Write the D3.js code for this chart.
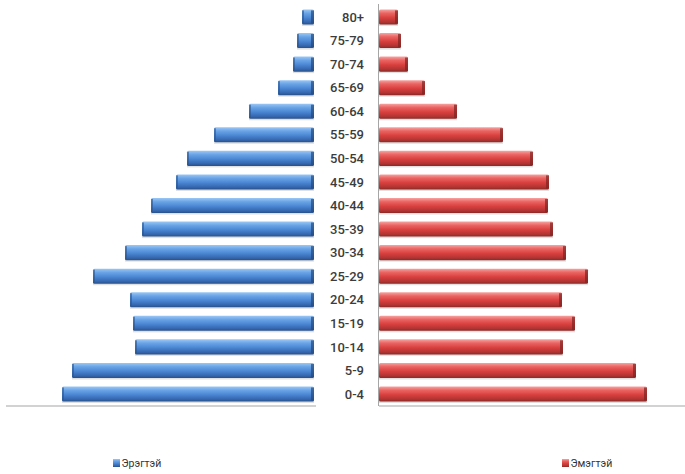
<!DOCTYPE html>
<html>
<head>
<meta charset="utf-8">
<script src="https://cdn.jsdelivr.net/npm/d3@7"></script>
<style>
  body { margin: 0; background: #fff; }
  svg { display: block; }
</style>
</head>
<body>
<div id="chart"></div>
<script>
// age groups, bottom to top
const ageGroups = ["0-4", "5-9", "10-14", "15-19", "20-24", "25-29", "30-34", "35-39",
    "40-44", "45-49", "50-54", "55-59", "60-64", "65-69", "70-74", "75-79", "80+"];
// population, thousands
const maleValues = [126, 121, 89.5, 90.5, 92, 110.5, 94.5, 86, 81.5, 69, 63.5, 50, 32.5, 18, 10.5, 8.5, 6];
const femaleValues = [134, 128.5, 92, 98, 91.5, 104.5, 93.5, 87, 84.5, 85, 77, 62, 39, 23, 14.5, 11, 9.5];
const seriesNames = ["Эрэгтэй", "Эмэгтэй"];

const width = 685, height = 474;
const axisY = 406;

const svg = d3.select("#chart")
    .append("svg")
    .attr("width", width)
    .attr("height", height);

const defs = svg.append("defs");
function gradient(id, stops) {
    const g = defs.append("linearGradient")
        .attr("id", id)
        .attr("x1", 0).attr("y1", 0).attr("x2", 0).attr("y2", 1);
    stops.forEach(s => g.append("stop").attr("offset", s[0]).attr("stop-color", s[1]));
}
gradient("blueGrad", [[0, "#9cc7f5"], [0.25, "#6aa4e6"], [0.55, "#4a86d3"], [0.85, "#3566ad"], [1, "#27508c"]]);
gradient("redGrad", [[0, "#f6a4a2"], [0.25, "#ea6462"], [0.55, "#d9403e"], [0.85, "#b03432"], [1, "#8c2826"]]);

const y = d3.scaleBand()
    .domain(ageGroups.slice().reverse())
    .range([5.2, 405.8])
    .paddingInner(0.36)
    .paddingOuter(0.18);

const xLeft = d3.scaleLinear().domain([0, 150]).range([314, 14]);
const xRight = d3.scaleLinear().domain([0, 150]).range([379, 679]);

const rows = ageGroups.map((a, i) => ({ age: a, male: maleValues[i], female: femaleValues[i] }));

// axis lines
svg.append("line")
    .attr("x1", 6).attr("x2", 316)
    .attr("y1", axisY).attr("y2", axisY)
    .attr("stroke", "#a6a6a6").attr("stroke-width", 1.2);
svg.append("line")
    .attr("x1", 379).attr("x2", 685)
    .attr("y1", axisY).attr("y2", axisY)
    .attr("stroke", "#a6a6a6").attr("stroke-width", 1.2);
svg.append("line")
    .attr("x1", 378.5).attr("x2", 378.5)
    .attr("y1", 4).attr("y2", axisY)
    .attr("stroke", "#a6a6a6").attr("stroke-width", 1);

// male bars
const male = svg.append("g").selectAll("g")
    .data(rows)
    .enter().append("g");
male.append("rect")
    .attr("x", d => xLeft(d.male))
    .attr("y", d => y(d.age) + 1.5)
    .attr("width", d => xLeft(0) - xLeft(d.male))
    .attr("height", y.bandwidth())
    .attr("fill", "#000").attr("opacity", 0.12);
male.append("rect")
    .attr("x", d => xLeft(d.male))
    .attr("y", d => y(d.age))
    .attr("width", d => xLeft(0) - xLeft(d.male))
    .attr("height", y.bandwidth())
    .attr("rx", 1.5)
    .attr("fill", "url(#blueGrad)");
male.append("rect")
    .attr("x", d => xLeft(d.male))
    .attr("y", d => y(d.age) + 1)
    .attr("width", 2)
    .attr("height", y.bandwidth() - 2)
    .attr("fill", "#2a5590").attr("opacity", 0.6);
male.append("rect")
    .attr("x", xLeft(0) - 3)
    .attr("y", d => y(d.age) + 1)
    .attr("width", 3)
    .attr("height", y.bandwidth() - 2)
    .attr("fill", "#23487e").attr("opacity", 0.7);

// female bars
const female = svg.append("g").selectAll("g")
    .data(rows)
    .enter().append("g");
female.append("rect")
    .attr("x", xRight(0))
    .attr("y", d => y(d.age) + 1.5)
    .attr("width", d => xRight(d.female) - xRight(0))
    .attr("height", y.bandwidth())
    .attr("fill", "#000").attr("opacity", 0.12);
female.append("rect")
    .attr("x", xRight(0))
    .attr("y", d => y(d.age))
    .attr("width", d => xRight(d.female) - xRight(0))
    .attr("height", y.bandwidth())
    .attr("rx", 1.5)
    .attr("fill", "url(#redGrad)");
female.append("rect")
    .attr("x", d => xRight(d.female) - 3)
    .attr("y", d => y(d.age) + 1)
    .attr("width", 3)
    .attr("height", y.bandwidth() - 2)
    .attr("fill", "#7e2322").attr("opacity", 0.7);

// age labels, right aligned like the original
svg.append("g").selectAll("text")
    .data(rows)
    .enter().append("text")
    .attr("x", 364)
    .attr("y", d => y(d.age) + y.bandwidth() / 2)
    .attr("dy", "0.36em")
    .attr("text-anchor", "end")
    .attr("font-family", "Roboto, 'Liberation Sans', sans-serif")
    .attr("font-size", 13)
    .attr("font-weight", 500)
    .attr("fill", "#3c3c3c")
    .text(d => d.age);

// legend
const legend = [
    { name: seriesNames[0], x: 113, fill: "url(#blueGrad)" },
    { name: seriesNames[1], x: 562, fill: "url(#redGrad)" }
];
const lg = svg.append("g").selectAll("g")
    .data(legend)
    .enter().append("g")
    .attr("transform", d => `translate(${d.x}, 459)`);
lg.append("rect")
    .attr("width", 7).attr("height", 8)
    .attr("fill", d => d.fill);
lg.append("text")
    .attr("x", 8.5).attr("y", 7.5)
    .attr("font-family", "Roboto, 'Liberation Sans', sans-serif")
    .attr("font-size", 10.5)
    .attr("fill", "#333")
    .text(d => d.name);
</script>
</body>
</html>
